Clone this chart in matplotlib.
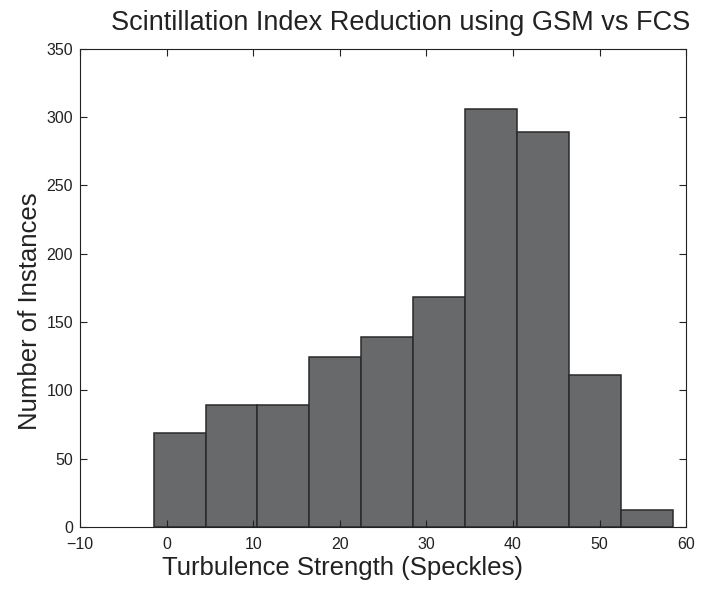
import numpy as np
import matplotlib
matplotlib.use("Agg")
import matplotlib.pyplot as plt

# histogram bins (6 units wide) and counts
bin_edges = [-1.5, 4.5, 10.5, 16.5, 22.5, 28.5, 34.5, 40.5, 46.5, 52.5, 58.5]
counts = [69, 89, 89, 124, 139, 168, 306, 289, 111, 12]
x_ticks = [-10, 0, 10, 20, 30, 40, 50, 60]
y_ticks = [0, 50, 100, 150, 200, 250, 300, 350]

plt.rcParams['font.family'] = ['Liberation Sans', 'DejaVu Sans']
ink = '#222222'

fig = plt.figure(figsize=(7.01, 5.92), dpi=100)
ax = fig.add_axes([0.114, 0.110, 0.865, 0.808])

edges = np.array(bin_edges)
ax.bar(edges[:-1], counts, width=np.diff(edges), align='edge',
       color='#68696b', edgecolor='#2a2a2a', linewidth=1.1)

ax.set_xlim(-10, 60)
ax.set_ylim(0, 350)
ax.set_xticks(x_ticks)
ax.set_yticks(y_ticks)
ax.tick_params(direction='in', top=True, right=True, length=5, width=0.8,
               labelsize=11.5, colors=ink)
ax.tick_params(axis='x', pad=7)
ax.tick_params(axis='y', pad=5)
for s in ax.spines.values():
    s.set_linewidth(0.8)
    s.set_color(ink)

fig.text(401 / 701, 1 - 30 / 592, "Scintillation Index Reduction using GSM vs FCS",
         ha='center', va='baseline', fontsize=19.5, color=ink)
ax.set_xlabel("Turbulence Strength (Speckles)", fontsize=18.5, color=ink)
ax.xaxis.set_label_coords(0.433, -0.061)
ax.set_ylabel("Number of Instances", fontsize=18.5, color=ink)
ax.yaxis.set_label_coords(-0.063, 0.451)

fig.savefig("out.png", dpi=100)
